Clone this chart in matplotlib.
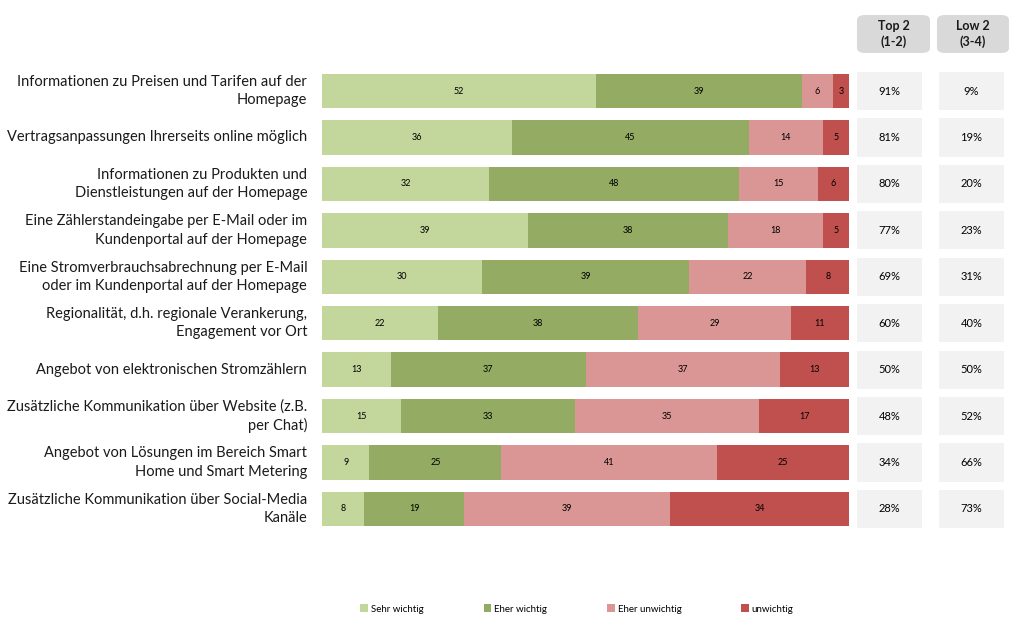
import matplotlib
matplotlib.use("Agg")
import matplotlib.pyplot as plt
from matplotlib.patches import FancyBboxPatch
import numpy as np

plt.rcParams['font.family'] = ['Lato', 'DejaVu Sans']

categories = [
    "Informationen zu Preisen und Tarifen auf der\nHomepage",
    "Vertragsanpassungen Ihrerseits online möglich",
    "Informationen zu Produkten und\nDienstleistungen auf der Homepage",
    "Eine Zählerstandeingabe per E-Mail oder im\nKundenportal auf der Homepage",
    "Eine Stromverbrauchsabrechnung per E-Mail\noder im Kundenportal auf der Homepage",
    "Regionalität, d.h. regionale Verankerung,\nEngagement vor Ort",
    "Angebot von elektronischen Stromzählern",
    "Zusätzliche Kommunikation über Website (z.B.\nper Chat)",
    "Angebot von Lösungen im Bereich Smart\nHome und Smart Metering",
    "Zusätzliche Kommunikation über Social-Media\nKanäle",
]
sehr_wichtig = [52, 36, 32, 39, 30, 22, 13, 15, 9, 8]
eher_wichtig = [39, 45, 48, 38, 39, 38, 37, 33, 25, 19]
eher_unwichtig = [6, 14, 15, 18, 22, 29, 37, 35, 41, 39]
unwichtig = [3, 5, 6, 5, 8, 11, 13, 17, 25, 34]
top2 = ["91%", "81%", "80%", "77%", "69%", "60%", "50%", "48%", "34%", "28%"]
low2 = ["9%", "19%", "20%", "23%", "31%", "40%", "50%", "52%", "66%", "73%"]
series_names = ["Sehr wichtig", "Eher wichtig", "Eher unwichtig", "unwichtig"]
colors = ["#c3d69b", "#93ab62", "#d99694", "#c0504d"]

W, H = 1022, 631
fig = plt.figure(figsize=(W / 100, H / 100), dpi=100)

def fx(px):
    return px / W

def fy(px):
    return 1 - px / H

top_px, bot_px = 67.8, 532.2
ax = fig.add_axes([fx(322), fy(bot_px), fx(849 - 322), (bot_px - top_px) / H])

data = np.array([sehr_wichtig, eher_wichtig, eher_unwichtig, unwichtig], dtype=float)
totals = data.sum(axis=0)
norm = data / totals * 100
n = len(categories)
y = np.arange(n)
left = np.zeros(n)
for i in range(4):
    ax.barh(y, norm[i], left=left, height=0.74, color=colors[i], label=series_names[i])
    for j in range(n):
        ax.text(left[j] + norm[i][j] / 2, y[j], str(int(data[i][j])), ha='center', va='center',
                fontsize=6.5, color='black')
    left += norm[i]
ax.set_xlim(0, 100)
ax.set_ylim(n - 0.5, -0.5)
ax.axis('off')
for j in range(n):
    ax.text(-2.8, y[j], categories[j], ha='right', va='center', fontsize=10.5,
            linespacing=1.4, color='#1a1a1a')

# right columns
for (x0, x1, vals) in [(857, 922, top2), (939, 1004, low2)]:
    axr = fig.add_axes([fx(x0), fy(bot_px), fx(x1 - x0), (bot_px - top_px) / H])
    axr.barh(y, [1] * n, height=0.82, color="#f2f2f2")
    for j in range(n):
        axr.text(0.5, y[j], vals[j], ha='center', va='center', fontsize=8, color='black')
    axr.set_xlim(0, 1)
    axr.set_ylim(n - 0.5, -0.5)
    axr.axis('off')

for (x0, x1, head) in [(857, 930, "Top 2\n(1-2)"), (937, 1009, "Low 2\n(3-4)")]:
    box = FancyBboxPatch((fx(x0), fy(53)), fx(x1 - x0), (53 - 15) / H,
                         boxstyle="round,pad=0,rounding_size=0.008",
                         transform=fig.transFigure, facecolor="#d9d9d9", edgecolor='none')
    fig.patches.append(box)
    fig.text(fx((x0 + x1) / 2), fy(34), head, ha='center', va='center', fontsize=9,
             fontweight='bold', linespacing=1.25, color='#1a1a1a')

handles, labels = ax.get_legend_handles_labels()
fig.legend(handles, labels, loc='center', bbox_to_anchor=(fx(577), fy(609)), ncol=4, frameon=False,
           fontsize=7, handlelength=0.8, handleheight=0.8, handletextpad=0.3, columnspacing=6.15)

fig.savefig("out.png", dpi=100)
